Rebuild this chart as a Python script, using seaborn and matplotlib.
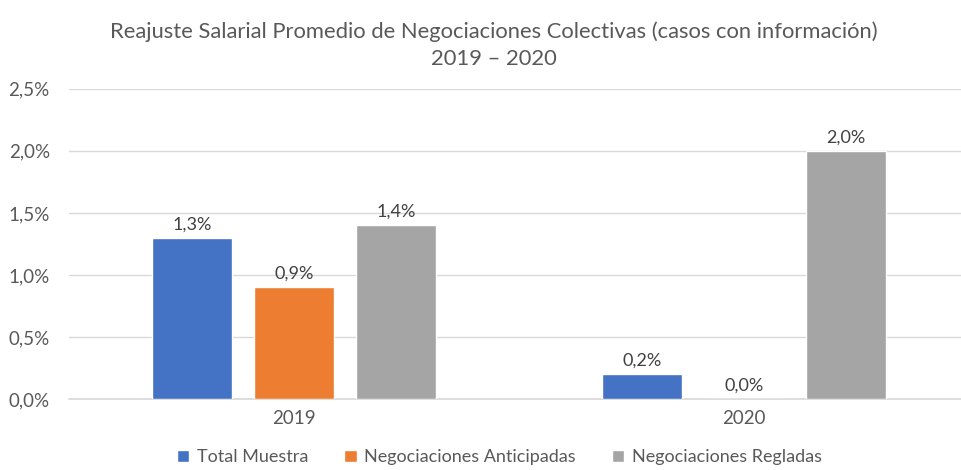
import pandas as pd
import matplotlib.pyplot as plt
import seaborn as sns

# datos
years = ["2019", "2020"]
series = ["Total Muestra", "Negociaciones Anticipadas", "Negociaciones Regladas"]
total_muestra = [1.3, 0.2]
anticipadas = [0.9, 0.0]
regladas = [1.4, 2.0]

colors = ["#4472C4", "#ED7D31", "#A5A5A5"]
text_col = "#595959"

df = pd.DataFrame({
    "Año": years * 3,
    "Serie": [s for s in series for _ in years],
    "Valor": total_muestra + anticipadas + regladas,
})

sns.set_theme(style="white")
plt.rcParams['font.family'] = ['Lato', 'DejaVu Sans']

fig = plt.figure(figsize=(9.62, 4.70), dpi=100)
ax = fig.add_axes([0.072, 0.151, 0.935, 0.66])

sns.barplot(data=df, x="Año", y="Valor", hue="Serie", hue_order=series,
            palette=colors, width=0.68, gap=0.22, ax=ax, zorder=3,
            saturation=1, legend=True)

for cont in ax.containers:
    ax.bar_label(cont, labels=[f"{v:.1f}%".replace(".", ",") for v in cont.datavalues],
                 padding=4, fontsize=13, color="#404040")

ax.set_ylim(0, 2.5)
ax.set_yticks([0, 0.5, 1.0, 1.5, 2.0, 2.5])
ax.set_yticklabels([f"{v:.1f}%".replace(".", ",") for v in ax.get_yticks()],
                   fontsize=13.5, color=text_col)
ax.tick_params(axis='x', labelsize=13.5, labelcolor=text_col, length=0, pad=8)
ax.tick_params(axis='y', length=0, pad=14)
ax.grid(axis='y', color="#D9D9D9", linewidth=1, zorder=0)
for s in ["top", "right", "left"]:
    ax.spines[s].set_visible(False)
ax.spines["bottom"].set_color("#D9D9D9")
ax.set_xlabel("")
ax.set_ylabel("")

ax.legend(loc="upper center", bbox_to_anchor=(0.478, -0.11), ncol=3, frameon=False,
          fontsize=13, handlelength=0.7, handleheight=0.7, handletextpad=0.4,
          columnspacing=2.0, labelcolor=text_col)

fig.suptitle("Reajuste Salarial Promedio de Negociaciones Colectivas (casos con información)\n2019 – 2020",
             x=0.513, y=0.955, fontsize=15.8, color=text_col, linespacing=1.45)

fig.savefig("out.png", dpi=100)
